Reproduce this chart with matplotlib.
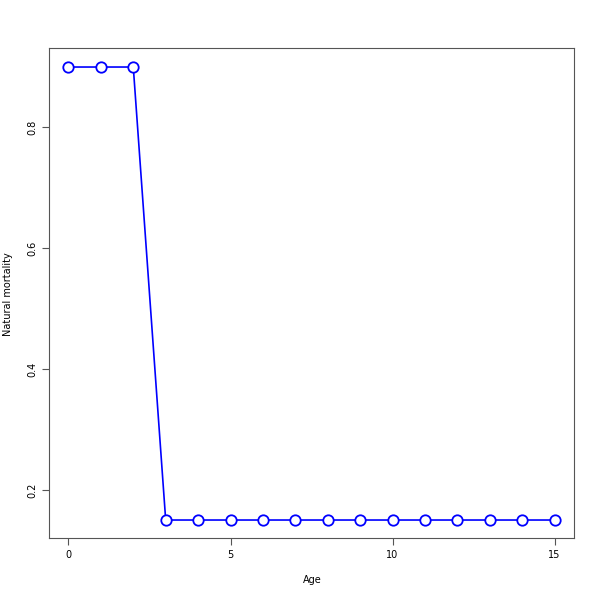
import matplotlib
matplotlib.use("Agg")
import matplotlib.pyplot as plt

# data
ages = list(range(16))
mortality = [0.9, 0.9, 0.9] + [0.15] * 13

fig = plt.figure(figsize=(6, 6), dpi=100)
ax = fig.add_axes([0.0817, 0.1033, 0.875, 0.8167])

ax.plot(ages, mortality, color="blue", lw=1.2, marker="o", ms=7.5,
        mfc="white", mec="blue", mew=1.3)

ax.set_xlim(-0.6, 15.6)
ax.set_ylim(0.1202, 0.9315)
ax.set_xticks([0, 5, 10, 15])
ax.set_yticks([0.2, 0.4, 0.6, 0.8])
ax.tick_params(labelsize=7, length=5, width=0.8, color="#555555")
for lbl in ax.get_yticklabels():
    lbl.set_rotation(90)
    lbl.set_va("center")

for s in ax.spines.values():
    s.set_linewidth(0.8)
    s.set_color("#555555")

fig.text(0.52, 0.033, "Age", ha="center", va="center", fontsize=7)
fig.text(0.013, 0.51, "Natural mortality", ha="center", va="center",
         rotation=90, fontsize=7)

fig.savefig("out.png", dpi=100)
